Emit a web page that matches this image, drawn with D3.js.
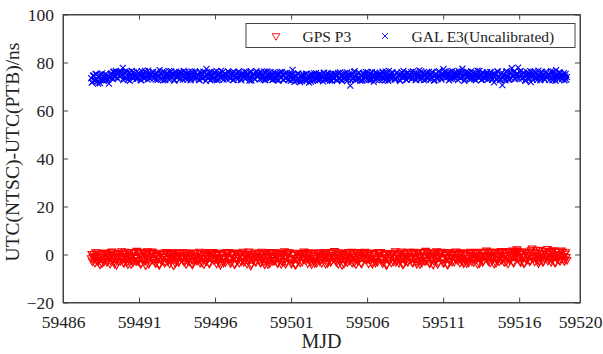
<!DOCTYPE html>
<html>
<head>
<meta charset="utf-8">
<script src="https://cdn.jsdelivr.net/npm/d3@7"></script>
<style>
  html, body { margin: 0; padding: 0; background: #fff; }
  svg { display: block; }
  text { font-family: "Liberation Serif", "Times New Roman", serif; fill: #222; }
</style>
</head>
<body>
<svg id="chart" width="603" height="354"></svg>
<script>
// ---- data ----
const mjdStart = 59487.85;      // first epoch (MJD)
const mjdStep = 1 / 24;         // sampling interval (days): hourly
const xTicks = [59486, 59491, 59496, 59501, 59506, 59511, 59516, 59520];
const yTicks = [-20, 0, 20, 40, 60, 80, 100];
const seriesNames = ["GPS P3", "GAL E3(Uncalibrated)"];

// UTC(NTSC)-UTC(PTB), ns, GPS P3 (one row per day)
const gpsP3 = [
  -1.5,0.3,-2.8,-0.9,0.2,-1.7,-3.4,1.0,-0.6,-2.5,0.9,-3.0,-2.2,0.1,-4.1,-1.3,-0.9,-3.6,0.4,-2.0,-3.0,0.8,-1.8,-0.2,
  0.8,-3.1,-2.5,0.5,-0.4,-1.2,-3.8,-2.4,1.1,1.3,-1.6,-0.7,-2.9,-3.8,0.3,-1.9,-4.3,0.6,-1.0,-2.8,0.6,-0.4,-2.6,-1.5,
  1.4,-0.8,-1.9,-3.3,-3.5,1.2,0.5,-1.6,-0.8,-2.9,-4.0,0.4,1.0,-0.5,-2.3,-4.0,-0.2,-2.2,-3.3,1.1,0.9,-1.0,-1.4,-2.7,
  1.6,-2.3,-2.7,1.0,0.1,-0.6,-3.9,-3.5,-1.1,-1.8,1.2,0.7,-2.0,-2.6,-4.4,-0.3,0.4,1.4,-1.7,-3.9,-3.1,-1.1,0.7,0.2,
  1.3,0.9,-2.2,-2.0,-0.5,-3.2,-3.6,-0.1,0.8,-1.4,-1.3,-4.2,-4.2,0.5,0.2,-2.5,-2.5,-0.9,-0.7,0.3,-3.4,-3.0,1.1,-1.7,
  0.9,-2.9,-1.8,0.7,-3.7,-1.4,0.3,-2.2,-1.0,1.0,-4.5,-0.5,0.6,-3.6,-2.4,-1.7,-0.3,0.9,-3.2,-2.6,0.8,-0.2,-1.5,-1.3,
  1.0,-1.0,-2.6,-3.1,-0.2,1.0,-3.9,-1.8,0.5,-2.7,-1.2,0.6,-3.0,-0.3,0.1,-3.8,-4.1,-2.4,-0.9,0.9,0.7,-1.2,-2.1,-2.5,
  0.6,-2.1,-2.0,1.2,-3.4,-0.8,0.2,-3.3,-1.4,-1.6,-4.0,0.5,0.8,-2.8,-2.8,-0.1,-0.6,1.1,-3.5,-3.7,0.4,-0.9,-1.6,0.4,
  1.1,0.5,-2.3,-1.1,-0.1,-1.9,-3.7,0.8,0.6,-2.3,-1.5,-3.2,-4.3,0.3,0.0,-1.5,-2.7,-3.4,-0.8,-1.8,-3.2,1.0,0.9,-0.4,
  0.7,1.1,-1.9,-1.8,-3.6,-3.0,0.4,0.1,-1.1,-1.2,-3.9,-4.0,0.9,0.7,-2.2,-2.3,-0.4,-0.7,-3.4,0.5,0.6,-2.8,-1.3,-1.5,
  1.2,-3.1,-2.5,0.5,-0.3,-1.2,-3.8,-2.4,0.3,1.3,-1.7,-0.7,-4.6,-3.8,0.2,-1.9,-2.0,0.6,-0.5,-2.8,-3.1,-0.4,0.8,-1.5,
  0.9,-0.8,-2.1,-3.3,-3.3,1.2,0.5,-1.6,-0.9,-2.9,-4.1,0.4,0.7,-0.5,-2.6,-4.0,-0.2,-2.2,-3.6,1.1,0.5,-1.0,-1.4,-2.7,
  1.0,-2.3,-2.4,1.0,-0.4,-0.6,-3.5,-3.5,0.6,-1.8,-1.2,0.7,-3.9,-2.6,0.3,-0.3,-2.9,1.4,-0.7,-3.9,-3.0,-1.1,1.0,0.2,
  0.8,0.9,-1.7,-2.0,-3.8,-3.2,0.2,-0.1,-1.3,-1.4,-4.2,-4.2,0.8,0.5,-2.3,-2.5,-0.5,-0.9,-3.3,0.3,0.7,-3.0,-1.1,-1.7,
  1.3,0.3,-2.2,-0.9,-0.2,-1.7,-3.6,1.0,0.7,-2.5,-1.4,-3.0,-4.0,0.1,0.1,-1.3,-2.5,-3.6,-0.6,-2.0,-3.4,0.8,0.9,-0.2,
  0.9,-2.9,-2.0,0.7,-3.5,-1.4,0.4,-2.2,-1.0,1.0,-3.8,-0.5,1.0,-3.6,-2.7,-1.7,-0.3,0.9,-3.1,-2.6,0.6,-0.2,-1.5,-1.3,
  1.5,-1.0,-2.3,-3.1,-0.1,1.0,-3.9,-1.8,0.5,-2.7,-1.6,0.6,-4.3,-0.3,0.3,-3.8,-2.1,-2.4,-0.8,0.9,-3.2,-1.2,1.1,-2.5,
  1.0,-2.1,-1.8,1.2,-3.4,-0.8,0.6,-3.3,-0.7,-1.6,-4.0,0.5,0.9,-2.8,-2.4,-0.1,-0.1,1.1,-3.5,-3.7,0.8,-0.9,-1.2,0.4,
  1.2,0.5,-2.1,-1.1,-0.3,-1.9,-3.7,0.8,0.8,-2.3,-1.3,-3.2,-3.8,0.3,0.4,-1.5,-2.6,-3.4,-0.4,-1.8,-3.0,1.0,1.0,-0.4,
  0.9,1.1,-1.9,-1.8,-3.6,-3.0,0.5,0.1,-1.1,-1.2,-4.4,-4.0,0.7,0.7,-2.2,-2.3,-0.2,-0.7,-3.3,0.5,0.6,-2.8,-1.3,-1.5,
  1.4,-3.1,-2.4,0.5,0.0,-1.2,-3.5,-2.4,0.6,1.3,-1.5,-0.7,-4.1,-3.8,0.2,-1.9,-2.8,0.6,-0.6,-2.8,-3.1,-0.4,1.2,-1.5,
  1.1,-0.8,-1.7,-3.3,-3.3,1.2,0.7,-1.6,-0.8,-2.9,-3.9,0.4,1.0,-0.5,-2.5,-4.0,-0.3,-2.2,-3.4,1.1,0.9,-1.0,-1.0,-2.7,
  1.6,-2.3,-2.0,1.0,-0.2,-0.6,-3.6,-3.5,0.9,-1.8,-1.2,0.7,-4.2,-2.6,0.5,-0.3,-2.3,1.4,-0.5,-3.9,-3.2,-1.1,1.1,0.2,
  1.2,0.9,-1.8,-2.0,-3.5,-3.2,0.6,-0.1,-0.9,-1.4,-4.0,-4.2,1.1,0.5,-2.6,-2.5,-0.1,-0.9,-3.0,0.3,0.8,-3.0,-1.1,-1.7,
  1.3,0.3,-2.2,-0.9,0.1,-1.7,-3.4,1.0,0.7,-2.5,-1.4,-3.0,-3.7,0.1,0.4,-1.3,-2.4,-3.6,-0.4,-2.0,-3.3,0.8,1.2,-0.2,
  1.0,-2.9,-1.6,0.7,-3.2,-1.4,0.8,-2.2,-0.6,1.0,-3.9,-0.5,1.2,-3.6,-2.1,-1.7,0.0,0.9,-3.1,-2.6,1.0,-0.2,-0.9,-1.3,
  1.7,-0.7,-1.9,-2.8,-0.1,1.3,-3.3,-1.5,1.0,-2.4,-1.1,0.9,-3.8,0.0,0.6,-3.5,-2.2,-2.1,-0.3,1.2,-2.9,-0.9,1.3,-2.2,
  1.5,-1.8,-1.5,1.5,-3.1,-0.3,0.9,-3.0,-0.5,-1.3,-3.7,1.0,1.4,-2.3,-2.0,0.2,0.2,1.7,-3.0,-3.4,1.1,-0.6,-0.8,0.7,
  2.2,1.6,-1.7,-1.4,0.3,-2.7,-3.2,0.5,1.3,-0.9,-0.9,-3.6,-3.5,1.2,0.8,-2.0,-2.1,-0.4,-0.1,0.9,-2.8,-2.5,1.8,-1.1,
  2.6,0.9,-1.4,-0.4,-2.9,-1.2,1.2,2.0,-0.4,-2.1,-3.6,-2.6,1.9,0.7,-1.8,-0.8,0.4,-3.1,-2.7,-1.5,1.5,1.6,-0.6,0.3,
  2.4,-2.5,-1.6,1.1,0.5,-0.7,-3.1,-1.9,1.6,1.8,-0.8,-0.2,-3.4,-3.2,1.1,-1.4,-1.9,1.2,0.2,-2.2,-2.6,0.1,1.7,-1.0,
  1.2,-0.6,-1.9,-2.8,0.4,1.0,-1.0,-2.2
];

// UTC(NTSC)-UTC(PTB), ns, GAL E3 uncalibrated (one row per day)
const galE3 = [
  73.5,71.6,71.9,74.4,74.6,72.5,72.8,75.3,75.1,73.0,72.2,71.2,73.9,74.7,71.4,72.9,74.8,75.5,73.0,72.6,72.4,74.0,75.0,73.4,
  72.6,74.8,74.2,72.9,71.2,73.8,73.6,75.2,75.6,73.5,73.1,76.0,76.2,74.1,74.0,76.5,75.9,73.7,73.2,75.4,76.1,74.2,74.4,76.3,
  75.8,74.9,77.8,72.7,73.5,75.6,76.3,73.5,74.6,76.2,72.9,74.0,75.9,72.4,74.1,75.3,76.5,73.8,73.3,76.0,75.4,74.5,74.0,73.1,
  76.2,73.3,73.6,75.8,75.1,74.4,72.8,72.6,76.4,75.1,74.5,73.9,73.2,76.5,75.8,74.2,74.0,72.9,76.6,75.5,73.4,73.6,75.2,74.8,
  73.9,76.0,76.1,73.4,74.7,74.7,72.9,75.9,75.5,72.8,74.2,74.3,76.8,75.4,73.5,73.0,75.0,76.3,72.6,74.1,76.0,72.7,74.4,75.2,
  75.7,74.2,73.1,76.4,74.9,73.1,76.4,75.0,73.8,74.6,75.2,72.5,72.7,75.7,76.2,73.7,74.3,74.9,75.6,76.1,73.0,73.3,75.9,75.4,
  74.1,72.9,76.5,74.8,73.4,76.1,75.3,73.6,72.9,75.3,76.0,74.0,74.6,72.6,73.2,76.2,75.8,74.4,74.0,73.2,76.3,75.8,73.6,74.5,
  75.1,74.9,72.8,72.7,76.2,75.6,74.4,73.5,73.3,76.2,75.7,74.0,74.0,72.4,77.3,75.3,73.5,73.8,75.4,76.0,72.6,74.5,76.1,73.1,
  74.3,73.3,75.9,75.8,73.1,74.4,76.4,72.6,74.7,75.1,72.9,73.9,75.5,76.5,73.8,74.2,76.1,72.9,74.2,75.5,75.0,73.6,73.0,74.8,
  76.3,76.0,74.1,73.4,73.4,74.7,75.6,75.9,72.7,72.8,76.0,74.3,74.5,75.4,73.6,73.0,75.9,76.3,74.8,74.1,72.8,72.7,75.3,75.2,
  74.0,75.4,76.2,73.3,73.3,76.1,75.1,74.9,74.6,73.7,72.5,75.7,76.4,72.5,73.9,74.6,75.4,75.0,73.1,73.1,75.8,76.4,74.3,74.2,
  75.5,74.5,73.0,75.8,76.1,73.2,74.2,74.4,72.9,76.2,75.7,72.6,73.6,74.0,76.3,75.3,74.5,73.6,73.2,76.1,75.0,74.8,72.8,72.9,
  75.9,73.2,74.1,75.6,73.0,74.3,75.4,72.5,72.6,75.0,76.0,73.7,73.8,76.1,74.9,72.9,72.7,74.6,75.6,73.4,73.5,75.8,74.6,72.8,
  72.9,74.4,75.2,72.3,73.7,75.1,76.9,73.5,73.1,71.9,74.4,74.8,72.4,73.0,75.3,75.5,73.6,72.6,71.8,74.1,74.8,72.2,73.0,75.0,
  74.7,73.1,72.5,75.2,75.4,72.8,73.3,74.5,71.6,73.6,75.0,72.0,73.9,75.1,72.3,74.0,75.5,72.7,73.4,75.6,74.6,73.3,72.6,74.8,
  75.1,72.7,73.2,74.9,74.5,73.4,72.1,75.6,75.8,72.9,73.6,74.3,72.8,75.7,75.2,73.1,73.9,72.5,74.8,75.3,72.4,74.0,75.4,73.2,
  73.5,75.3,74.9,72.8,72.6,74.6,75.7,73.2,73.1,75.9,74.4,72.9,72.2,74.5,75.5,73.4,74.0,75.6,73.0,74.2,75.9,72.6,73.7,75.0,
  74.6,70.4,72.7,75.0,75.3,73.1,73.4,76.0,76.4,72.8,74.1,74.7,72.9,73.6,75.6,75.8,73.5,72.4,74.8,74.3,72.5,75.5,75.2,73.0,
  73.8,75.2,76.0,73.0,74.3,75.9,72.8,74.5,75.5,72.6,73.2,76.1,74.7,73.4,71.9,74.8,75.8,72.9,73.6,75.6,74.9,73.7,72.7,74.4,
  75.4,74.9,73.9,72.7,76.2,75.6,74.0,73.5,72.6,76.2,75.1,74.0,73.4,72.4,76.5,75.3,74.2,73.8,73.0,76.0,75.7,74.5,74.4,73.1,
  72.9,73.3,75.6,75.8,73.7,74.4,74.8,72.6,72.3,75.1,76.0,73.9,73.5,76.5,75.2,74.2,74.1,72.9,72.8,75.5,75.9,73.6,73.6,74.8,
  74.9,76.0,73.1,73.4,76.3,74.7,74.5,75.9,72.7,72.8,75.4,74.3,73.8,75.4,76.7,73.0,74.0,76.3,73.3,74.1,75.6,72.7,74.2,75.2,
  72.8,75.4,75.8,73.3,73.6,76.1,74.9,74.9,73.0,73.7,76.1,75.7,74.4,72.5,72.6,74.6,75.3,75.0,73.9,73.1,76.0,76.4,74.1,74.2,
  73.4,72.9,75.5,74.8,77.2,76.1,74.3,73.6,76.2,75.3,73.8,74.0,75.7,72.6,74.6,76.2,73.2,74.4,76.4,73.2,74.8,75.8,73.5,74.5,
  75.9,74.9,74.0,72.7,76.5,75.6,73.7,73.5,75.2,76.2,77.4,74.0,74.5,72.4,72.9,75.3,76.1,73.8,74.2,76.0,75.6,74.5,73.6,73.1,
  76.3,73.3,74.4,75.8,73.1,74.4,75.8,72.6,74.7,75.1,76.6,73.9,73.4,76.5,75.0,74.2,72.7,72.9,75.9,75.5,74.1,73.6,73.3,74.8,
  75.5,76.0,72.9,73.4,74.6,74.7,76.0,75.9,73.7,72.8,75.3,74.3,71.7,75.4,74.8,73.0,73.2,76.3,76.2,74.1,74.3,72.7,72.8,75.2,
  75.7,70.6,73.5,75.0,74.9,73.3,72.6,76.1,76.4,74.5,74.0,72.8,73.1,75.9,75.6,73.4,77.6,74.7,74.2,76.0,76.3,73.0,73.6,75.2,
  75.1,75.4,77.9,73.3,74.4,76.1,76.5,74.9,73.2,73.7,75.8,75.7,74.1,72.5,72.5,74.6,76.0,75.0,73.9,73.1,75.4,76.4,71.8,74.2,
  74.7,72.9,76.2,74.8,73.4,76.1,75.5,73.6,72.8,75.3,76.6,74.0,74.0,72.6,73.3,76.2,75.9,74.4,74.5,73.2,72.9,75.8,76.1,74.5,
  73.7,74.9,75.3,72.7,74.2,75.6,76.4,73.5,72.6,76.2,75.0,74.0,73.5,72.4,76.8,75.3,74.3,73.8,73.0,76.0,75.7,74.5,74.6,73.1,
  73.2,74.8,75.6,72.6,74.1,75.3,72.9,73.9
];

// ---- layout ----
const svg = d3.select("#chart");
const plot = { left: 63, right: 580, top: 14.5, bottom: 302.5 };
const axisColor = "#444";

const x = d3.scaleLinear().domain([59486, 59520]).range([plot.left, plot.right]);
const y = d3.scaleLinear().domain([-20, 100]).range([plot.bottom, plot.top]);

svg.append("rect").attr("width", 603).attr("height", 354).attr("fill", "#fff");

// markers
const triPath = "M-3.8,-2.3L3.8,-2.3L0,4.3Z";
const crossPath = "M-3,-3L3,3M-3,3L3,-3";

const gpsData = gpsP3.map((v, i) => ({ t: mjdStart + i * mjdStep, v }));
const galData = galE3.map((v, i) => ({ t: mjdStart + i * mjdStep, v }));

svg.append("g").selectAll("path").data(galData).join("path")
  .attr("d", crossPath)
  .attr("transform", d => `translate(${x(d.t)},${y(d.v)})`)
  .attr("fill", "none").attr("stroke", "#0000ff").attr("stroke-width", 1.1);

svg.append("g").selectAll("path").data(gpsData).join("path")
  .attr("d", triPath)
  .attr("transform", d => `translate(${x(d.t)},${y(d.v)})`)
  .attr("fill", "none").attr("stroke", "#ff0000").attr("stroke-width", 1.1);

// axes (ticks inward)
const gx = svg.append("g").attr("transform", `translate(0,${plot.bottom})`)
  .call(d3.axisBottom(x).tickValues(xTicks).tickFormat(d3.format("d")).tickSizeInner(-5).tickSizeOuter(0).tickPadding(13));
const gxt = svg.append("g").attr("transform", `translate(0,${plot.top})`)
  .call(d3.axisTop(x).tickValues(xTicks).tickFormat("").tickSizeInner(-5).tickSizeOuter(0));
const gy = svg.append("g").attr("transform", `translate(${plot.left},0)`)
  .call(d3.axisLeft(y).tickValues(yTicks).tickSizeInner(-5).tickSizeOuter(0).tickPadding(9));
const gyr = svg.append("g").attr("transform", `translate(${plot.right},0)`)
  .call(d3.axisRight(y).tickValues(yTicks).tickFormat("").tickSizeInner(-5).tickSizeOuter(0));

[gx, gxt, gy, gyr].forEach(g => {
  g.select(".domain").attr("stroke", axisColor);
  g.selectAll(".tick line").attr("stroke", axisColor);
  g.selectAll(".tick text").attr("fill", "#222")
    .style("font-family", '"Liberation Serif", serif').style("font-size", "17.5px");
});
gx.selectAll(".tick text").attr("dy", "0.71em");

// frame
svg.append("rect")
  .attr("x", plot.left).attr("y", plot.top)
  .attr("width", plot.right - plot.left).attr("height", plot.bottom - plot.top)
  .attr("fill", "none").attr("stroke", axisColor).attr("stroke-width", 1);

// axis titles
svg.append("text").attr("x", (plot.left + plot.right) / 2).attr("y", 348)
  .attr("text-anchor", "middle").style("font-size", "20px").text("MJD");
svg.append("text").attr("transform", "translate(18.5,152) rotate(-90)")
  .attr("text-anchor", "middle").style("font-size", "19.5px").text("UTC(NTSC)-UTC(PTB)/ns");

// legend
const lg = svg.append("g");
lg.append("rect").attr("x", 246).attr("y", 23.5).attr("width", 329).attr("height", 24)
  .attr("fill", "#fff").attr("stroke", axisColor).attr("stroke-width", 1);
lg.append("path").attr("d", triPath).attr("transform", "translate(276,36)")
  .attr("fill", "none").attr("stroke", "#ff0000").attr("stroke-width", 0.9);
lg.append("text").attr("x", 302.5).attr("y", 41.5).style("font-size", "15.5px").text(seriesNames[0]);
lg.append("path").attr("d", crossPath).attr("transform", "translate(385,36)")
  .attr("fill", "none").attr("stroke", "#0000ff").attr("stroke-width", 0.9);
lg.append("text").attr("x", 411.5).attr("y", 41.5).style("font-size", "15.5px").text(seriesNames[1]);
</script>
</body>
</html>
